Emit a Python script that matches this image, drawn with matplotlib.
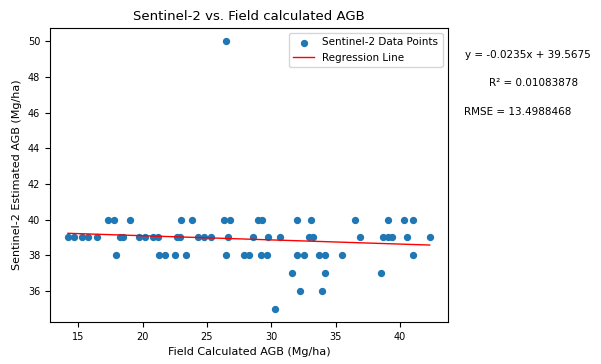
import numpy as np
import matplotlib
matplotlib.use("Agg")
import matplotlib.pyplot as plt

# Field calculated AGB (x) grouped by the Sentinel-2 estimated AGB level (y), Mg/ha
s2_levels = [40, 39, 38, 37, 36, 35, 50]
field_at_level = [
    [17.3, 17.8, 19.0, 23.0, 23.8, 26.3, 26.8, 29.0, 29.3, 32.0, 33.1, 36.5,
     39.1, 40.3, 41.0],
    [14.2, 14.7, 15.3, 15.75, 16.45, 18.25, 18.5, 19.7, 20.2, 20.8, 21.2,
     22.65, 22.9, 24.3, 24.8, 25.3, 26.65, 28.6, 29.75, 30.65, 32.9, 33.2,
     36.9, 38.7, 39.1, 39.4, 40.55, 42.3],
    [17.9, 21.3, 21.7, 22.5, 23.4, 26.45, 27.9, 28.3, 29.2, 29.7, 32.0, 32.5,
     33.7, 34.2, 35.5, 41.0],
    [31.6, 34.2, 38.55],
    [32.2, 33.9],
    [30.3],
    [26.5],
]

x = np.concatenate([np.array(v) for v in field_at_level])
y = np.concatenate([np.full(len(v), lvl, dtype=float)
                    for lvl, v in zip(s2_levels, field_at_level)])

m, b = np.polyfit(x, y, 1)
y_fit = m * x + b
r2 = 1 - np.sum((y - y_fit) ** 2) / np.sum((y - y.mean()) ** 2)
rmse = np.sqrt(np.mean((y - x) ** 2))

fig = plt.figure(figsize=(6.01, 3.64), dpi=100)
ax = fig.add_axes([0.083, 0.115, 0.662, 0.808])

ax.scatter(x, y, s=18, color="#1f77b4", label="Sentinel-2 Data Points")
order = np.argsort(x)
ax.plot(x[order], y_fit[order], color="red", linewidth=1, label="Regression Line")

ax.set_title("Sentinel-2 vs. Field calculated AGB", fontsize=9.5)
ax.set_xlabel("Field Calculated AGB (Mg/ha)", fontsize=8)
ax.set_ylabel("Sentinel-2 Estimated AGB (Mg/ha)", fontsize=8)
ax.set_yticks([36, 38, 40, 42, 44, 46, 48, 50])
ax.tick_params(labelsize=7)
ax.legend(loc="upper right", fontsize=7.5)

fig.text(0.878, 0.848, f"y = {m:.4f}x + {b:.4f}", ha="center", va="center", fontsize=7.5)
fig.text(0.888, 0.772, f"R² = {r2:.8f}", ha="center", va="center", fontsize=7.5)
fig.text(0.862, 0.692, f"RMSE = {rmse:.7f}", ha="center", va="center", fontsize=7.5)

fig.savefig("out.png", dpi=100)
